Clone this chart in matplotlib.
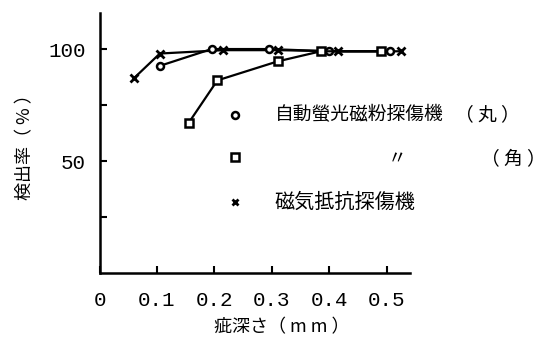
import matplotlib
matplotlib.use('Agg')
from matplotlib import pyplot as plt

plt.rcParams['font.family'] = ['Noto Sans CJK JP', 'DejaVu Sans']

# detection rate (%) vs flaw depth (mm)
depth_round = [0.105, 0.195, 0.295, 0.40, 0.505]
rate_round = [92.5, 100, 100, 99, 99]

depth_square = [0.155, 0.205, 0.31, 0.385, 0.49]
rate_square = [67, 86, 94.5, 99, 99]

depth_mr = [0.06, 0.105, 0.215, 0.31, 0.415, 0.525]
rate_mr = [87, 98, 99.5, 99.5, 99, 99]

xticks = [0, 0.1, 0.2, 0.3, 0.4, 0.5]
xtick_labels = ['0', '0.1', '0.2', '0.3', '0.4', '0.5']
yticks = [25, 50, 75, 100]
ytick_labels = ['', '50', '', '100']

label_round = '自動螢光磁粉探傷機'
label_round_tail = '（ 丸 ）'
label_square = '〃'
label_square_tail = '（ 角 ）'
label_mr = '磁気抵抗探傷機'

fig = plt.figure(figsize=(5.6, 3.45), dpi=100)
ax = fig.add_axes([0.1777, 0.2087, 0.732 - 0.1777, 0.9617 - 0.2087])

mono = 'Liberation Mono'
lw = 1.6

ax.plot(depth_mr, rate_mr, color='black', lw=lw, marker='x', ms=6, mew=2)
ax.plot(depth_round, rate_round, color='black', lw=lw, marker='o', ms=5,
        mfc='white', mew=1.8)
ax.plot(depth_square, rate_square, color='black', lw=lw, marker='s', ms=5.5,
        mfc='white', mew=1.8)

ax.set_xlim(0, 0.54)
ax.set_ylim(0, 116)

for s in ['top', 'right']:
    ax.spines[s].set_visible(False)
for s in ['left', 'bottom']:
    ax.spines[s].set_linewidth(1.8)

ax.set_xticks(xticks)
ax.set_xticklabels(xtick_labels, fontfamily=mono, fontsize=15)
ax.set_yticks(yticks)
ax.set_yticklabels(ytick_labels, fontfamily=mono, fontsize=15)
ax.tick_params(direction='in', length=5, width=1.5)
ax.tick_params(axis='x', pad=13)
ax.tick_params(axis='y', pad=10)

ax.set_xlabel('疵深さ（ m m ）', fontsize=13, va='center')
ax.xaxis.set_label_coords(0.588, -0.207)
ax.set_ylabel('検出率（ % ）', fontsize=13, labelpad=10)

# hand-drawn style legend inside the plot
kx, tx = 0.236, 0.305
ax.plot([kx], [70.5], 'o', color='black', ms=5, mfc='white', mew=1.8)
ax.plot([kx], [51.8], 's', color='black', ms=5.5, mfc='white', mew=1.8)
ax.plot([kx], [31.7], 'x', color='black', ms=5, mew=2)
ax.text(tx, 70.5, label_round, fontsize=13.5, va='center')
ax.text(0.675, 70.5, label_round_tail, fontsize=13.5, va='center', ha='center')
ax.text(0.517, 51, label_square, fontsize=13.5, va='center', ha='center')
ax.text(0.72, 51, label_square_tail, fontsize=13.5, va='center', ha='center')
ax.text(tx, 31.7, label_mr, fontsize=14.5, va='center')

fig.savefig('out.png', dpi=100)
